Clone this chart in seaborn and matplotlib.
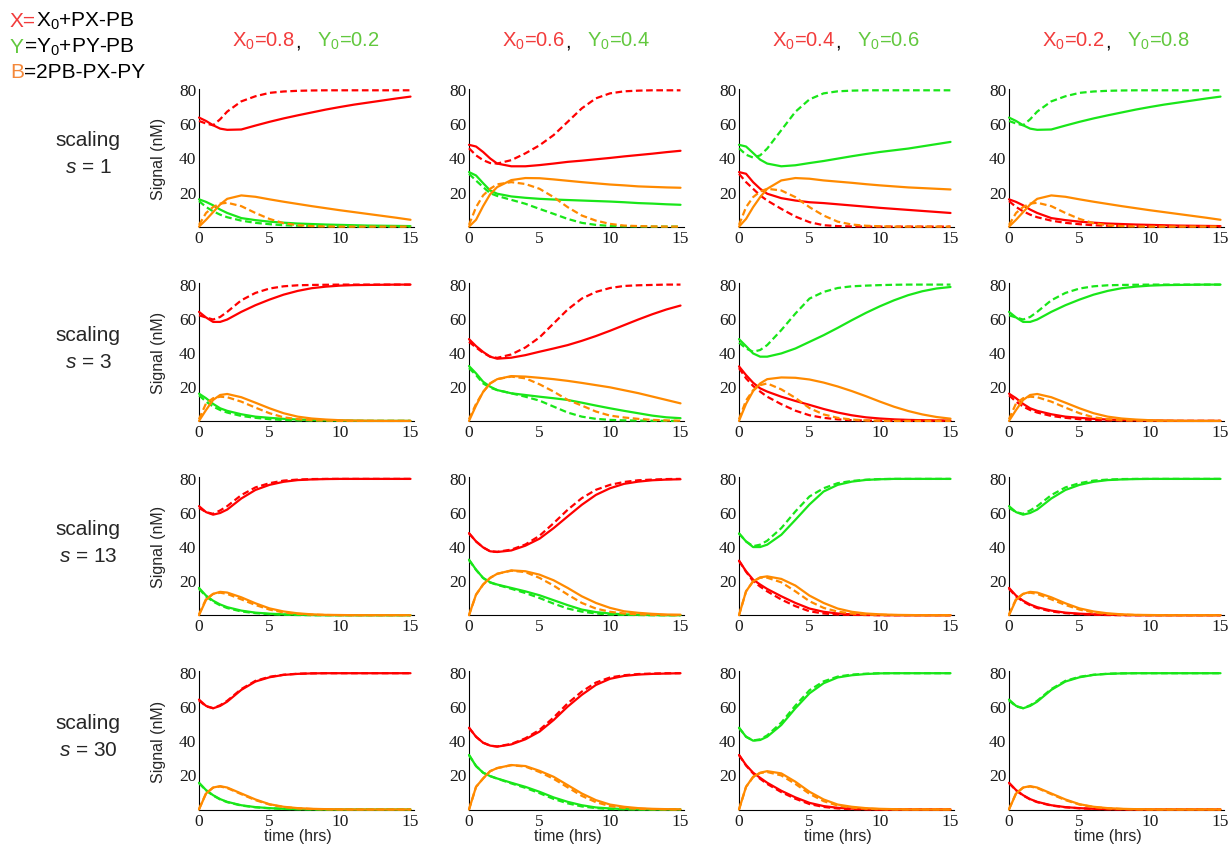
import pandas as pd
import seaborn as sns
import matplotlib.pyplot as plt
from matplotlib.ticker import MultipleLocator

T = [0, 0.5, 1, 1.5, 2, 3, 4, 5, 6, 7, 8, 9, 10, 11, 12, 13, 14, 15]

SCALES = [1, 3, 13, 30]
X0 = [0.8, 0.6, 0.4, 0.2]
Y0 = [0.2, 0.4, 0.6, 0.8]

# ---- scaling s = 1 ----
S1_08 = dict(
    X=[64, 62, 59.5, 57.5, 56.8, 57, 59.3, 61.5, 63.5, 65.3, 67, 68.7, 70.2, 71.6, 72.8, 74, 75.2, 76.3],
    Xd=[62, 60.5, 59.5, 63, 67.5, 73.5, 76.5, 78.5, 79.3, 79.7, 79.9, 80, 80, 80, 80, 80, 80, 80],
    Y=[16, 14.5, 12.5, 10, 8, 5, 3.8, 2.9, 2.3, 1.8, 1.5, 1.2, 1, 0.8, 0.6, 0.5, 0.4, 0.3],
    Yd=[15, 11.5, 9, 7, 5.5, 3.5, 2.2, 1.4, 0.8, 0.5, 0.3, 0.2, 0.1, 0, 0, 0, 0, 0],
    B=[0, 4, 8.5, 13, 16.3, 18.3, 17.5, 16, 14.6, 13.3, 12, 10.8, 9.6, 8.5, 7.4, 6.3, 5.2, 4],
    Bd=[1, 8, 11.5, 13.5, 14, 12, 8, 4.5, 2, 0.8, 0.3, 0.1, 0, 0, 0, 0, 0, 0],
)
S1_06 = dict(
    X=[48, 47, 43.8, 40, 37, 35.4, 35.4, 36.1, 37, 38, 38.7, 39.5, 40.3, 41.2, 42, 42.8, 43.7, 44.5],
    Xd=[46, 41.8, 39, 37.3, 37, 39, 43, 47.7, 53.7, 61.5, 69.4, 75.3, 78.2, 79.4, 79.8, 80, 80, 80],
    Y=[32, 30, 25.5, 21.2, 19.3, 17.7, 16.9, 16.3, 15.9, 15.6, 15.3, 15, 14.7, 14.3, 13.8, 13.5, 13.1, 12.8],
    Yd=[31, 27, 23.2, 19.6, 18, 15.7, 13.4, 10.4, 7.5, 4.5, 2.2, 1, 0.4, 0.2, 0.1, 0, 0, 0],
    B=[0, 4, 12, 19, 23.2, 27.3, 28.5, 28.4, 27.7, 26.9, 26.1, 25.4, 24.7, 24.2, 23.6, 23.3, 23, 22.8],
    Bd=[1, 11.4, 18.3, 22.2, 24.8, 26.1, 25, 22.2, 17.3, 11.4, 6.5, 3.5, 1.6, 0.6, 0.3, 0.1, 0, 0],
)
S1_04 = dict(
    Y=[48, 47, 43.2, 39.3, 37, 35.4, 36, 37.3, 38.5, 39.9, 41.3, 42.6, 43.8, 44.8, 45.8, 47.1, 48.4, 49.7],
    Yd=[46, 42.2, 40.5, 41.8, 45.8, 56.6, 67.4, 74.7, 78.2, 79.4, 79.8, 80, 80, 80, 80, 80, 80, 80],
    X=[32, 31, 26.1, 22.2, 19.3, 16.7, 15.3, 14.3, 13.8, 13.1, 12.4, 11.7, 11, 10.4, 9.8, 9.2, 8.6, 8],
    Xd=[31, 26.1, 22.2, 18.3, 15.3, 10.4, 5.9, 2.6, 0.8, 0.3, 0.1, 0, 0, 0, 0, 0, 0, 0],
    B=[0, 4.5, 11.4, 17.3, 22.2, 27.1, 28.5, 28.1, 27.1, 26.4, 25.7, 24.9, 24.2, 23.6, 23, 22.6, 22.2, 21.8],
    Bd=[1, 11.4, 17.3, 20.6, 22.2, 21.2, 17.3, 11.4, 6.5, 2.9, 1.2, 0.5, 0.2, 0, 0, 0, 0, 0],
)

# ---- scaling s = 3 ----
S3_08 = dict(
    X=[64, 60.7, 58.1, 58.1, 59.5, 64, 67.9, 71.2, 74.1, 76.3, 77.9, 78.8, 79.4, 79.7, 79.8, 79.9, 80, 80],
    Xd=[62, 60.7, 59.5, 61, 64, 70.8, 75.1, 77.7, 79, 79.6, 79.8, 79.9, 80, 80, 80, 80, 80, 80],
    Y=[16, 13.3, 10, 7.4, 5.9, 3.9, 2.5, 1.8, 1.2, 0.8, 0.5, 0.3, 0.2, 0.1, 0, 0, 0, 0],
    Yd=[15, 11.3, 8.4, 6.4, 4.9, 2.9, 1.8, 1, 0.5, 0.3, 0.2, 0.1, 0, 0, 0, 0, 0, 0],
    B=[0, 6.4, 12.3, 15.2, 15.8, 13.9, 10.7, 7.4, 4.5, 2.5, 1.4, 0.8, 0.4, 0.2, 0.1, 0, 0, 0],
    Bd=[1, 10.3, 13.3, 14.2, 13.9, 11.3, 7.8, 4.5, 2.1, 1, 0.4, 0.2, 0, 0, 0, 0, 0, 0],
)
S3_06 = dict(
    X=[48, 43.9, 40.5, 37.7, 36.5, 37.1, 38.6, 40.6, 42.5, 44.5, 47, 49.8, 52.9, 56.2, 59.5, 62.6, 65.4, 67.7],
    Xd=[46.4, 43.1, 40, 37.7, 37, 39, 43.1, 49, 57.2, 65.4, 71.8, 75.7, 78, 79.2, 79.6, 79.8, 80, 80],
    Y=[32.2, 27.9, 23, 20.1, 18.1, 16.2, 15.2, 14.2, 13.3, 12.3, 10.7, 9, 7.4, 5.9, 4.5, 3.1, 2.1, 1.6],
    Yd=[31, 26.9, 22, 19.5, 18.1, 16.2, 14.2, 11.9, 8.4, 4.9, 2.5, 1.2, 0.6, 0.3, 0.2, 0.1, 0, 0],
    B=[0, 9, 17, 22, 24.5, 26.3, 26, 25.3, 24.5, 23.5, 22.3, 21, 19.7, 18, 16.3, 14.3, 12.3, 10.3],
    Bd=[1, 10, 17, 22, 24.5, 26, 25, 21.5, 17.2, 12.3, 9, 5.5, 3.1, 2, 1.2, 0.6, 0.3, 0.1],
)
S3_04 = dict(
    Y=[48, 43.9, 39.6, 37.7, 37.7, 39.6, 42.5, 46.4, 50.3, 54.6, 59.1, 63.4, 67.3, 70.8, 73.8, 76.1, 77.7, 78.6],
    Yd=[46, 42.5, 40.6, 41.6, 44.5, 53.3, 63, 71.8, 75.7, 78, 79, 79.4, 79.7, 79.9, 80, 80, 80, 80],
    X=[32, 26.9, 22.4, 19.1, 17.2, 14.2, 11.7, 9.4, 7, 4.9, 3.3, 2.1, 1.4, 0.9, 0.6, 0.4, 0.3, 0.2],
    Xd=[31, 25, 20.5, 17.2, 14.2, 9.8, 6, 3.3, 1.8, 0.9, 0.4, 0.2, 0.1, 0, 0, 0, 0, 0],
    B=[0, 10, 17.5, 22, 24.5, 25.5, 25.3, 24.3, 22.5, 20.2, 17.5, 14.5, 11.3, 8.3, 5.8, 3.8, 2.3, 1.3],
    Bd=[1, 12, 18, 21, 22, 18.5, 13.5, 7.5, 3.8, 1.8, 0.8, 0.3, 0.1, 0, 0, 0, 0, 0],
)

# ---- scaling s = 13 ----
S13_08 = dict(
    X=[64, 60.5, 59, 60, 62, 68.5, 73.5, 76.5, 78.3, 79.3, 79.7, 79.9, 80, 80, 80, 80, 80, 80],
    Xd=[63, 60.5, 59.5, 61.5, 64, 70.5, 75, 77.5, 79, 79.6, 79.9, 80, 80, 80, 80, 80, 80, 80],
    Y=[16, 11.5, 8.5, 6.3, 4.7, 2.7, 1.5, 0.9, 0.5, 0.3, 0.1, 0, 0, 0, 0, 0, 0, 0],
    Yd=[15.5, 11, 8, 5.8, 4.2, 2.2, 1.2, 0.6, 0.3, 0.1, 0, 0, 0, 0, 0, 0, 0, 0],
    B=[0, 9, 12.5, 13.7, 13.3, 10.5, 7, 4, 2.2, 1.1, 0.5, 0.2, 0.1, 0, 0, 0, 0, 0],
    Bd=[0.5, 9.5, 12.5, 13.2, 12.5, 9.3, 6, 3.3, 1.6, 0.8, 0.3, 0.1, 0, 0, 0, 0, 0, 0],
)
S13_06 = dict(
    X=[48.2, 43.3, 39.8, 37.5, 37.1, 38, 40.8, 44.9, 51.1, 58, 64.8, 70.6, 74.5, 77.1, 78.4, 79.2, 79.6, 79.8],
    Xd=[48, 43.3, 39.8, 37.5, 37.2, 38.5, 41.5, 46.6, 54, 61.9, 68.7, 73.6, 76.5, 78.2, 79.2, 79.6, 79.9, 80],
    Y=[32.6, 26.7, 21.9, 19.3, 18, 16, 14, 11.7, 8.8, 5.9, 3.3, 1.8, 1, 0.5, 0.2, 0.1, 0, 0],
    Yd=[32.4, 26.6, 21.8, 19.2, 17.8, 15.5, 13, 10.1, 6.8, 3.9, 2.1, 1, 0.4, 0.2, 0.1, 0, 0, 0],
    B=[0, 12.1, 18, 21.9, 24.3, 26.3, 25.8, 23.8, 20.5, 16, 11.1, 7.2, 4.3, 2.3, 1.4, 0.8, 0.4, 0.3],
    Bd=[0, 12, 18, 21.9, 24.3, 26.1, 25.3, 21.9, 17.4, 12.1, 7.2, 3.9, 2, 1, 0.5, 0.2, 0.1, 0],
)
S13_04 = dict(
    Y=[48, 43.3, 40, 40, 41.4, 47.2, 56, 65, 72.6, 76.5, 78.4, 79.4, 79.8, 80, 80, 80, 80, 80],
    Yd=[48, 43.3, 40.5, 41.4, 43.7, 51.1, 60.9, 69.7, 74.5, 77.5, 78.8, 79.5, 79.9, 80, 80, 80, 80, 80],
    X=[32, 25.8, 20.9, 18, 15.4, 11.1, 7.2, 3.9, 2, 1, 0.5, 0.2, 0.1, 0, 0, 0, 0, 0],
    Xd=[32, 25.5, 20, 16.8, 14, 9.2, 5.3, 2.3, 1, 0.4, 0.2, 0.1, 0, 0, 0, 0, 0, 0],
    B=[0, 14, 19.9, 22.2, 22.8, 21.3, 17.4, 11.5, 7.2, 3.9, 2, 1, 0.5, 0.2, 0.1, 0, 0, 0],
    Bd=[0, 14, 19.9, 22, 22, 19.3, 14, 8.2, 4.3, 2.1, 1, 0.4, 0.2, 0.1, 0, 0, 0, 0],
)

# ---- scaling s = 30 ----
S30_08 = dict(
    X=[64.5, 60.8, 59.4, 60.8, 63.3, 70.2, 75.1, 77.6, 79, 79.6, 79.9, 80, 80, 80, 80, 80, 80, 80],
    Xd=[64, 60.5, 59.5, 61.2, 63.8, 70.7, 75.5, 77.9, 79.1, 79.7, 79.9, 80, 80, 80, 80, 80, 80, 80],
    Y=[15.7, 11.4, 8.4, 6.1, 4.5, 2.5, 1.4, 0.8, 0.4, 0.2, 0.1, 0, 0, 0, 0, 0, 0, 0],
    Yd=[15.5, 11.2, 8.2, 5.9, 4.3, 2.3, 1.3, 0.7, 0.35, 0.15, 0.05, 0, 0, 0, 0, 0, 0, 0],
    B=[0, 9.4, 12.9, 13.7, 12.9, 9.4, 5.9, 3.1, 1.6, 0.8, 0.4, 0.2, 0.1, 0, 0, 0, 0, 0],
    Bd=[0.3, 9.5, 12.8, 13.5, 12.6, 9, 5.5, 2.9, 1.4, 0.7, 0.3, 0.1, 0, 0, 0, 0, 0, 0],
)
S30_06 = dict(
    X=[48, 42.7, 39.2, 37.5, 36.9, 38.2, 41.2, 45.7, 52.5, 60.4, 67.3, 73.1, 76.7, 78.4, 79.2, 79.6, 79.8, 80],
    Xd=[48, 42.7, 39.2, 37.5, 37, 38.5, 41.8, 46.7, 54, 62.3, 69.2, 74.5, 77.5, 78.8, 79.5, 79.8, 80, 80],
    Y=[32, 25.5, 21.6, 19.6, 18.2, 15.7, 13.3, 10.4, 7.1, 4.5, 2.5, 1.2, 0.6, 0.3, 0.1, 0, 0, 0],
    Yd=[32, 25.5, 21.6, 19.6, 18.1, 15.3, 12.7, 9.6, 6.2, 3.6, 1.8, 0.8, 0.3, 0.1, 0, 0, 0, 0],
    B=[0, 13.3, 18.2, 22.5, 24.3, 26.1, 25.5, 22.7, 19.2, 14.3, 9.4, 5.5, 2.9, 1.6, 0.8, 0.4, 0.2, 0.1],
    Bd=[0, 13.3, 18.2, 22.5, 24.3, 26, 25.2, 22, 18, 13, 8, 4.3, 2, 0.9, 0.4, 0.2, 0.1, 0],
)
S30_04 = dict(
    Y=[48, 42.7, 40.4, 40.8, 42.7, 49.6, 59.4, 68.2, 74.1, 77.5, 78.8, 79.5, 79.9, 80, 80, 80, 80, 80],
    Yd=[48, 42.7, 40.5, 41.2, 43.5, 51, 61, 70, 75.2, 78, 79.2, 79.7, 80, 80, 80, 80, 80, 80],
    X=[32, 26.1, 21.6, 18.6, 15.7, 11, 7.1, 3.9, 2, 1, 0.5, 0.2, 0, 0, 0, 0, 0, 0],
    Xd=[32, 25.8, 21.2, 18, 15, 10.2, 6.3, 3.2, 1.5, 0.6, 0.2, 0.1, 0, 0, 0, 0, 0, 0],
    B=[0, 13.3, 19.2, 21.6, 22.5, 21.2, 16.3, 10.4, 5.9, 2.9, 1.6, 0.8, 0.4, 0.2, 0, 0, 0, 0],
    Bd=[0, 13.3, 19, 21.4, 22, 20, 15, 9.2, 4.9, 2.3, 1.1, 0.5, 0.2, 0, 0, 0, 0, 0],
)


def mirror(d):
    # X0=0.2 column shows the X0=0.8 curves with X and Y exchanged
    return dict(X=d['Y'], Xd=d['Yd'], Y=d['X'], Yd=d['Xd'], B=d['B'], Bd=d['Bd'])


GRID = [
    [S1_08, S1_06, S1_04, mirror(S1_08)],
    [S3_08, S3_06, S3_04, mirror(S3_08)],
    [S13_08, S13_06, S13_04, mirror(S13_08)],
    [S30_08, S30_06, S30_04, mirror(S30_08)],
]

RED, GREEN, ORANGE = '#ff0000', '#19e619', '#ff8a00'
TXT_RED, TXT_GREEN, TXT_ORANGE = '#f23c3c', '#62c83e', '#f4883a'

sns.set_style('white')
plt.rcParams['font.family'] = ['Liberation Sans', 'DejaVu Sans']
plt.rcParams['mathtext.fontset'] = 'custom'
plt.rcParams['mathtext.rm'] = 'Liberation Sans'
plt.rcParams['mathtext.it'] = 'Liberation Sans:italic'
plt.rcParams['mathtext.bf'] = 'Liberation Sans:bold'

W, H = 1231, 857
fig = plt.figure(figsize=(W / 100, H / 100), dpi=100)
renderer = fig.canvas.get_renderer()


def rich_text(x, y, parts, size, center=False):
    # draw differently coloured pieces one after another on a common baseline
    items = []
    cur = x
    for s, c in parts:
        if s is None:
            cur += c
            continue
        t = fig.text(cur / W, 1 - y / H, s, color=c, fontsize=size, ha='left', va='baseline')
        cur += t.get_window_extent(renderer).width
        items.append(t)
    if center:
        shift = (cur - x) / 2
        for t in items:
            px, py = t.get_position()
            t.set_position((px - shift / W, py))


PX_T = 211.5 / 15      # pixels per hour
PX_V = 136.3 / 80      # pixels per nM

for r in range(4):
    for c in range(4):
        x0 = 199 + 270 * c
        y0 = 226.6 + 194.3 * r
        ax = fig.add_axes([x0 / W, 1 - y0 / H, 15.25 * PX_T / W, 81 * PX_V / H])

        d = GRID[r][c]
        rows = []
        for key, vals in d.items():
            for t, v in zip(T, vals):
                rows.append((t, v, key[0], 'dashed' if key.endswith('d') else 'solid'))
        df = pd.DataFrame(rows, columns=['t', 'signal', 'species', 'model'])

        sns.lineplot(data=df, x='t', y='signal', hue='species', style='model',
                     hue_order=['Y', 'X', 'B'], style_order=['solid', 'dashed'],
                     palette={'X': RED, 'Y': GREEN, 'B': ORANGE},
                     dashes={'solid': '', 'dashed': (3, 1.6)},
                     estimator=None, linewidth=1.6, legend=False, ax=ax)
        for ln in ax.lines:
            ln.set_clip_on(False)
            ln.set_zorder(3)

        ax.set_xlim(0, 15.25)
        ax.set_ylim(0, 81)
        ax.set_xticks([0, 5, 10, 15])
        ax.set_yticks([20, 40, 60, 80])
        ax.xaxis.set_minor_locator(MultipleLocator(1))
        ax.yaxis.set_minor_locator(MultipleLocator(5))
        ax.tick_params(which='both', direction='in', color='black', width=0.8,
                       labelsize=12.5, labelfontfamily='Liberation Serif', labelcolor='#1a1a1a')
        ax.tick_params(which='major', length=4)
        ax.tick_params(which='minor', length=2)
        ax.tick_params(axis='y', pad=2)
        ax.tick_params(axis='x', pad=3)
        ax.set_xlabel('')
        ax.set_ylabel('')
        for side in ['top', 'right']:
            ax.spines[side].set_visible(False)
        for side in ['left', 'bottom']:
            ax.spines[side].set_color('black')
            ax.spines[side].set_linewidth(0.8)
        ax.patch.set_alpha(0)

        if c == 0:
            fig.text(158 / W, 1 - (y0 - 68) / H, 'Signal (nM)', rotation=90,
                     ha='center', va='center', fontsize=11.5)
        if r == 3:
            fig.text((x0 + 99) / W, 1 - 837 / H, 'time (hrs)', ha='center', va='center', fontsize=11.5)
        if r == 0:
            rich_text(x0 + 107, 47, [(f'X$_0$={X0[c]}', TXT_RED), (',', 'black'), (None, 16),
                                     (f'Y$_0$={Y0[c]}', TXT_GREEN)], 14.5, center=True)

    y80 = 90.3 + 194.3 * r
    fig.text(88 / W, 1 - (y80 + 56) / H, 'scaling', ha='center', va='baseline', fontsize=15)
    fig.text(88 / W, 1 - (y80 + 83) / H, f'$s$ = {SCALES[r]}', ha='center', va='baseline', fontsize=15)

rich_text(10, 27, [('X=', TXT_RED), ('X$_0$+PX-PB', 'black')], 15)
rich_text(10, 53, [('Y', TXT_GREEN), ('=Y$_0$+PY-PB', 'black')], 15)
rich_text(10, 78, [('B', TXT_ORANGE), ('=2PB-PX-PY', 'black')], 15)

fig.savefig('out.png', dpi=100)
